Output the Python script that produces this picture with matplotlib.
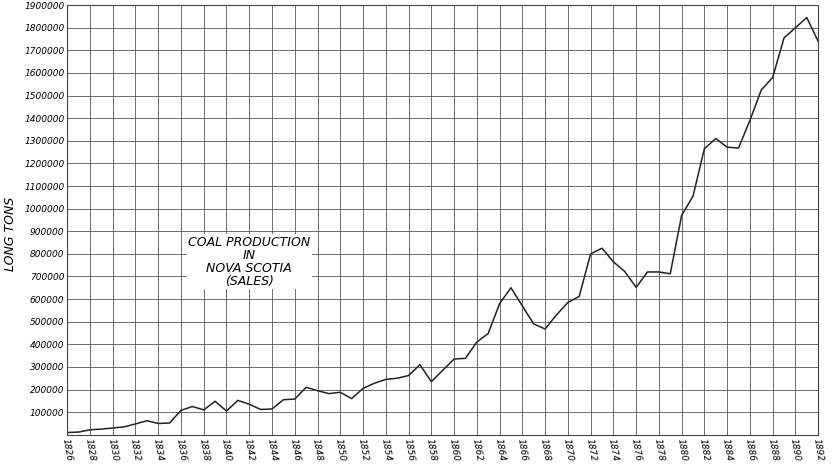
import matplotlib
matplotlib.use("Agg")
import matplotlib.pyplot as plt
import numpy as np

years = list(range(1826, 1893))
tons = [10000,12000,22000,25000,30000,35000,48000,62000,50000,52000,
        108000,125000,110000,148000,105000,152000,135000,112000,114000,155000,
        158000,210000,195000,182000,188000,160000,205000,228000,245000,250000,
        262000,310000,235000,285000,335000,338000,410000,448000,580000,650000,
        570000,490000,468000,530000,585000,612000,800000,825000,765000,722000,
        652000,720000,720000,712000,970000,1055000,1265000,1310000,1272000,1268000,
        1390000,1525000,1580000,1755000,1800000,1845000,1740000]
xticks = list(range(1826, 1893, 2))
yticks = list(range(100000, 1900001, 100000))

fig = plt.figure(figsize=(8.4, 4.67), dpi=100)
ax = fig.add_axes([0.080, 0.069, 0.894, 0.92])
ax.plot(years, tons, color="#222222", lw=1.1)
ax.set_xlim(1826, 1892)
ax.set_ylim(0, 1900000)
ax.set_xticks(xticks)
ax.set_xticklabels([str(y) for y in xticks], rotation=-80, style="italic", fontsize=6.5, ha="center", va="top")
ax.set_yticks(yticks)
ax.set_yticklabels([str(v) for v in yticks], style="italic", fontsize=6.5)
ax.grid(True, color="#555555", lw=0.6)
ax.tick_params(length=0, pad=2)
for s in ax.spines.values():
    s.set_color("#444444"); s.set_linewidth(0.8)
fig.text(0.012, 0.5, "LONG TONS", rotation=90, style="italic", fontsize=9, va="center", ha="center")
ax.text(1842, 880000, "COAL PRODUCTION\nIN\nNOVA SCOTIA\n(SALES)", style="italic",
        fontsize=9, ha="center", va="top", linespacing=1.0,
        bbox=dict(facecolor="white", edgecolor="none", pad=1))
fig.savefig("out.png", dpi=100, facecolor="white")
